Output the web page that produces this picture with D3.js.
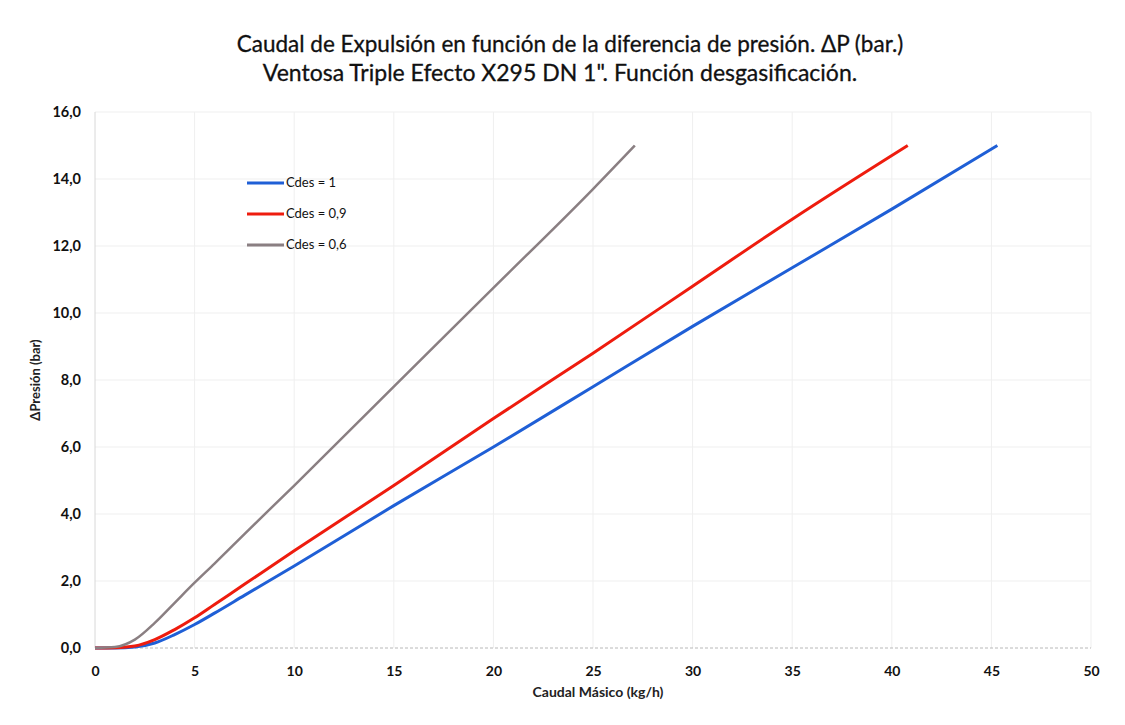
<!DOCTYPE html>
<html>
<head>
<meta charset="utf-8">
<script src="https://cdn.jsdelivr.net/npm/d3@7"></script>
<style>
  body { margin: 0; background: #fff; }
  text { font-family: Lato, "Open Sans", sans-serif; }
</style>
</head>
<body>
<div id="chart"></div>
<script>
// data
var xTicks = [0, 5, 10, 15, 20, 25, 30, 35, 40, 45, 50];
var yTicks = [0, 2, 4, 6, 8, 10, 12, 14, 16];
var seriesNames = ["Cdes = 1", "Cdes = 0,9", "Cdes = 0,6"];
var seriesColors = ["#1f5fd6", "#ee1c0e", "#8a7f82"];

var cdes1 = [[0,0],[1,0],[2,0.03],[3,0.15],[4,0.4],[5,0.7],[6,1.04],[7.5,1.57],[10,2.45],[15,4.25],[20,6.0],[25,7.8],[30,9.6],[35,11.35],[40,13.1],[45.3,15.0]];
var cdes09 = [[0,0],[1,0.01],[2,0.06],[3,0.25],[4,0.55],[5,0.9],[6,1.3],[7.5,1.9],[10,2.9],[15,4.85],[20,6.85],[25,8.8],[30,10.8],[35,12.8],[40.8,15.0]];
var cdes06 = [[0,0],[1,0.03],[2,0.25],[3,0.75],[4,1.35],[5,1.95],[6,2.52],[7.5,3.4],[10,4.85],[15,7.8],[20,10.75],[25,13.7],[27.1,15.0]];
var allSeries = [cdes1, cdes09, cdes06];

var width = 1125, height = 725;
var pLeft = 95, pRight = 1091, pTop = 112, pBottom = 648;

var svg = d3.select("#chart").append("svg")
  .attr("width", width)
  .attr("height", height);

var x = d3.scaleLinear().domain([0, 50]).range([pLeft, pRight]);
var y = d3.scaleLinear().domain([0, 16]).range([pBottom, pTop]);

// gridlines
svg.append("g")
  .selectAll("line")
  .data(xTicks.slice(1))
  .enter().append("line")
  .attr("x1", d => x(d)).attr("x2", d => x(d))
  .attr("y1", pTop).attr("y2", pBottom)
  .attr("stroke", "#efefef").attr("stroke-width", 1);

svg.append("g")
  .selectAll("line")
  .data(yTicks.slice(1))
  .enter().append("line")
  .attr("x1", pLeft).attr("x2", pRight)
  .attr("y1", d => y(d)).attr("y2", d => y(d))
  .attr("stroke", "#efefef").attr("stroke-width", 1);

// axis lines
svg.append("line")
  .attr("x1", pLeft).attr("x2", pLeft).attr("y1", pTop).attr("y2", pBottom)
  .attr("stroke", "#d8d8d8");
svg.append("line")
  .attr("x1", pLeft).attr("x2", pRight).attr("y1", pBottom).attr("y2", pBottom)
  .attr("stroke", "#b8b8b8").attr("stroke-dasharray", "3,2");

// tick labels
var xAxis = d3.axisBottom(x).tickValues(xTicks).tickSize(0).tickPadding(18);
var gx = svg.append("g").attr("transform", "translate(0," + pBottom + ")").call(xAxis);
gx.select(".domain").remove();
gx.selectAll("text").style("font-size", "14px").style("font-weight", "bold").attr("fill", "#111");

var yAxis = d3.axisLeft(y).tickValues(yTicks).tickSize(0).tickPadding(10)
  .tickFormat(d => d3.format(".1f")(d).replace(".", ","));
var gy = svg.append("g").attr("transform", "translate(" + (pLeft - 4) + ",0)").call(yAxis);
gy.select(".domain").remove();
gy.selectAll("text").style("font-size", "14.5px").style("font-weight", "bold").attr("fill", "#111");

// lines
var line = d3.line()
  .x(d => x(d[0]))
  .y(d => y(d[1]))
  .curve(d3.curveMonotoneX);

svg.append("g")
  .selectAll("path")
  .data(allSeries)
  .enter().append("path")
  .attr("d", line)
  .attr("fill", "none")
  .attr("stroke", (d, i) => seriesColors[i])
  .attr("stroke-width", (d, i) => i == 2 ? 2.5 : 3);

// legend
var leg = svg.append("g").attr("transform", "translate(247,183)");
seriesNames.forEach(function(n, i) {
  leg.append("line")
    .attr("x1", 0).attr("x2", 37)
    .attr("y1", i * 31).attr("y2", i * 31)
    .attr("stroke", seriesColors[i]).attr("stroke-width", 3);
  leg.append("text")
    .attr("x", 39).attr("y", i * 31 + 4)
    .style("font-size", "13px")
    .attr("fill", "#111")
    .text(n);
});

// titles
svg.append("text")
  .attr("x", 570).attr("y", 52)
  .attr("text-anchor", "middle")
  .style("font-size", "22.5px")
  .attr("fill", "#111")
  .attr("stroke", "#111").attr("stroke-width", 0.3)
  .text("Caudal de Expulsión  en función de la diferencia de presión. ΔP (bar.)");
svg.append("text")
  .attr("x", 560).attr("y", 81)
  .attr("text-anchor", "middle")
  .style("font-size", "23px")
  .attr("fill", "#111")
  .attr("stroke", "#111").attr("stroke-width", 0.3)
  .text("Ventosa Triple Efecto X295 DN 1\". Función desgasificación.");

svg.append("text")
  .attr("x", 598).attr("y", 697)
  .attr("text-anchor", "middle")
  .style("font-size", "14px")
  .style("font-weight", "bold")
  .attr("fill", "#222")
  .text("Caudal Másico (kg/h)");

svg.append("text")
  .attr("transform", "translate(40,380) rotate(-90)")
  .attr("text-anchor", "middle")
  .style("font-size", "13px")
  .style("font-weight", "bold")
  .attr("fill", "#222")
  .text("ΔPresión (bar)");
</script>
</body>
</html>
